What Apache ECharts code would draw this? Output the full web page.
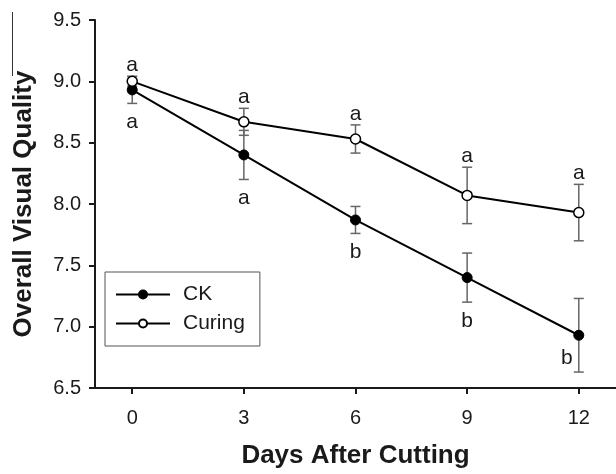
<!DOCTYPE html>
<html>
<head>
<meta charset="utf-8">
<script src="https://cdn.jsdelivr.net/npm/echarts@6/dist/echarts.min.js"></script>
<style>
  html, body { margin: 0; padding: 0; background: #fff; }
  #chart { width: 616px; height: 474px; }
</style>
</head>
<body>
<div id="chart"></div>
<script>
const days = [0, 3, 6, 9, 12]
const ckMean = [8.93, 8.40, 7.87, 7.40, 6.93]
const ckErr = [0.11, 0.20, 0.11, 0.20, 0.30]
const ckLetters = ['a', 'a', 'b', 'b', 'b']
const curingMean = [9.00, 8.67, 8.53, 8.07, 7.93]
const curingErr = [0.04, 0.11, 0.115, 0.23, 0.23]
const curingLetters = ['a', 'a', 'a', 'a', 'a']
const xTicks = [0, 3, 6, 9, 12]

const font = 'Liberation Sans, Arial, sans-serif'
const ink = '#1a1a1a'

// error bars + significance letters, drawn under the lines
function errorSeries(name, means, errs, letters, side) {
  return {
    name: name + ' err',
    type: 'custom',
    z: 1,
    silent: true,
    data: days.map((d, i) => [d, means[i], errs[i]]),
    renderItem(params, api) {
      const d = api.value(0)
      const m = api.value(1)
      const e = api.value(2)
      const x = api.coord([d, m])[0]
      const top = api.coord([d, m + e])[1]
      const bot = api.coord([d, m - e])[1]
      const cap = 5
      const bar = { stroke: '#666', lineWidth: 1.5 }
      const bottomEdge = params.coordSys.y + params.coordSys.height
      let tx = x
      let ty = side === 'above' ? top - 11 : bot + 19
      // no room under the bar: put the letter beside it
      if (side === 'below' && ty > bottomEdge - 12) {
        tx = x - 12
        ty = bot - 14
      }
      return {
        type: 'group',
        children: [
          { type: 'line', shape: { x1: x, y1: top, x2: x, y2: bot }, style: bar },
          { type: 'line', shape: { x1: x - cap, y1: top, x2: x + cap, y2: top }, style: bar },
          { type: 'line', shape: { x1: x - cap, y1: bot, x2: x + cap, y2: bot }, style: bar },
          {
            type: 'text',
            style: {
              text: letters[params.dataIndex],
              x: tx,
              y: ty,
              align: 'center',
              verticalAlign: 'middle',
              fontSize: 21,
              fontFamily: font,
              fill: ink
            }
          }
        ]
      }
    }
  }
}

const chart = echarts.init(document.getElementById('chart'))
chart.setOption({
  animation: false,
  backgroundColor: '#fff',
  textStyle: { fontFamily: font },
  grid: { left: 95, right: 0, top: 20, bottom: 79, containLabel: false },
  legend: {
    data: ['CK', 'Curing'],
    orient: 'vertical',
    left: 105,
    top: 272,
    itemWidth: 54,
    itemHeight: 10,
    itemGap: 8,
    padding: [12, 15, 12, 10],
    borderColor: '#555',
    borderWidth: 1,
    selectedMode: false,
    textStyle: { fontSize: 21, color: ink, fontFamily: font, padding: [0, 0, 0, 8] }
  },
  xAxis: {
    type: 'value',
    min: -1,
    max: 13,
    name: 'Days After Cutting',
    nameLocation: 'middle',
    nameGap: 55,
    nameTextStyle: { fontSize: 26, fontWeight: 'bold', color: ink, fontFamily: font },
    axisLine: { onZero: false, lineStyle: { color: ink, width: 2 } },
    axisTick: { customValues: xTicks, length: 6, lineStyle: { color: ink, width: 2 } },
    axisLabel: { customValues: xTicks, margin: 20, fontSize: 20, color: ink, fontFamily: font },
    splitLine: { show: false }
  },
  yAxis: {
    type: 'value',
    min: 6.5,
    max: 9.5,
    interval: 0.5,
    name: 'Overall Visual Quality',
    nameLocation: 'middle',
    nameGap: 58,
    nameTextStyle: { fontSize: 26, fontWeight: 'bold', color: ink, fontFamily: font },
    axisLine: { show: true, onZero: false, lineStyle: { color: ink, width: 2 } },
    axisTick: { show: true, length: 6, lineStyle: { color: ink, width: 2 } },
    axisLabel: { margin: 14, fontSize: 20, color: ink, fontFamily: font, formatter: v => v.toFixed(1) },
    splitLine: { show: false }
  },
  graphic: [{
    type: 'line',
    shape: { x1: 12.5, y1: 12, x2: 12.5, y2: 76 },
    style: { stroke: '#333', lineWidth: 1 }
  }],
  series: [
    errorSeries('CK', ckMean, ckErr, ckLetters, 'below'),
    errorSeries('Curing', curingMean, curingErr, curingLetters, 'above'),
    {
      name: 'CK',
      type: 'line',
      z: 3,
      data: days.map((d, i) => [d, ckMean[i]]),
      symbol: 'circle',
      symbolSize: 10,
      lineStyle: { color: '#000', width: 2 },
      itemStyle: { color: '#000', borderColor: '#000', borderWidth: 1 }
    },
    {
      name: 'Curing',
      type: 'line',
      z: 3,
      data: days.map((d, i) => [d, curingMean[i]]),
      symbol: 'circle',
      symbolSize: 10,
      lineStyle: { color: '#000', width: 2 },
      itemStyle: { color: '#fff', borderColor: '#000', borderWidth: 1.5 }
    }
  ]
})
</script>
</body>
</html>
